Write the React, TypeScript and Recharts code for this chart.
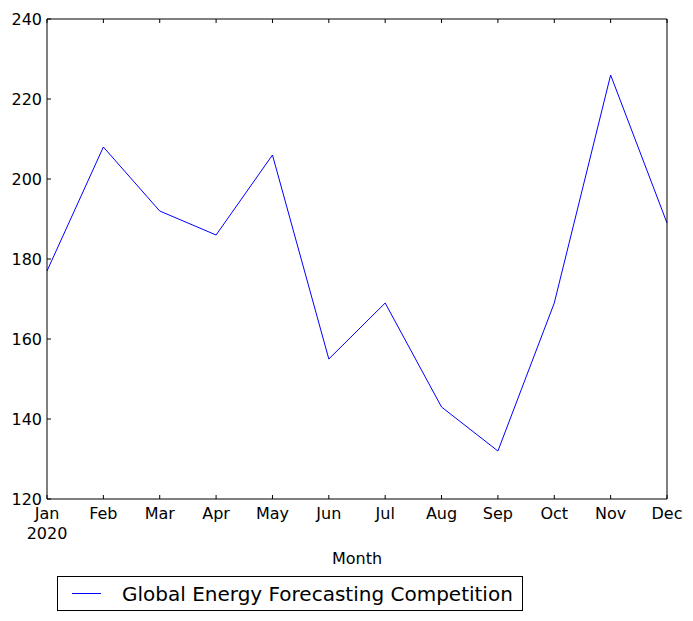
import { LineChart, Line, XAxis, YAxis } from "recharts";

const months = ["Jan", "Feb", "Mar", "Apr", "May", "Jun", "Jul", "Aug", "Sep", "Oct", "Nov", "Dec"];
const values = [177, 208, 192, 186, 206, 155, 169, 143, 132, 169, 226, 189];
const yTicks = [120, 140, 160, 180, 200, 220, 240];
const seriesName = "Global Energy Forecasting Competition";

const data = months.map((m, i) => ({ month: m, value: values[i] }));

const FONT = "DejaVu Sans, sans-serif";
const TICK = 4;

function BottomTick(props: any) {
  const { x, y, payload } = props;
  return (
    <g>
      <line x1={x} x2={x} y1={y} y2={y - TICK} stroke="#000" />
      <text x={x} y={y + 20} textAnchor="middle" fontSize={16} fontFamily={FONT} fill="#000">
        {payload.value}
      </text>
      {payload.value === "Jan" && (
        <text x={x} y={y + 40} textAnchor="middle" fontSize={16} fontFamily={FONT} fill="#000">
          2020
        </text>
      )}
    </g>
  );
}

function TopTick(props: any) {
  const { x, y } = props;
  return <line x1={x} x2={x} y1={y} y2={y + TICK} stroke="#000" />;
}

function LeftTick(props: any) {
  const { x, y, payload } = props;
  return (
    <g>
      <line x1={x} x2={x + TICK} y1={y} y2={y} stroke="#000" />
      <text x={x - 5} y={y + 6} textAnchor="end" fontSize={16} fontFamily={FONT} fill="#000">
        {payload.value}
      </text>
    </g>
  );
}

function RightTick(props: any) {
  const { x, y } = props;
  return <line x1={x} x2={x - TICK} y1={y} y2={y} stroke="#000" />;
}

export default function App() {
  return (
    <div style={{ position: "absolute", left: 0, top: 0, width: 693, height: 621, background: "#fff" }}>
      <LineChart width={693} height={621} data={data} margin={{ top: 18, right: 25, left: 0, bottom: 92 }}>
        <XAxis
          dataKey="month"
          xAxisId="bottom"
          height={30}
          stroke="#000"
          tickLine={false}
          tickSize={0}
          tickMargin={0}
          tick={<BottomTick />}
          interval={0}
          label={{ value: "Month", position: "insideBottom", offset: -35, fontSize: 16, fontFamily: FONT, fill: "#000" }}
        />
        <XAxis
          dataKey="month"
          xAxisId="top"
          orientation="top"
          height={1}
          stroke="#000"
          tickLine={false}
          tickSize={0}
          tickMargin={0}
          tick={<TopTick />}
          interval={0}
        />
        <YAxis
          yAxisId="left"
          width={47}
          domain={[120, 240]}
          ticks={yTicks}
          stroke="#000"
          tickLine={false}
          tickSize={0}
          tickMargin={0}
          tick={<LeftTick />}
          interval={0}
        />
        <YAxis
          yAxisId="right"
          orientation="right"
          width={1}
          domain={[120, 240]}
          ticks={yTicks}
          stroke="#000"
          tickLine={false}
          tickSize={0}
          tickMargin={0}
          tick={<RightTick />}
          interval={0}
        />
        <Line
          xAxisId="bottom"
          yAxisId="left"
          type="linear"
          dataKey="value"
          stroke="#0000ff"
          strokeWidth={1}
          dot={false}
          isAnimationActive={false}
        />
      </LineChart>
      <div
        style={{
          position: "absolute",
          left: 57,
          top: 576,
          width: 464,
          height: 33,
          border: "1px solid #000",
          display: "flex",
          alignItems: "center",
          fontFamily: FONT,
          fontSize: 20,
          boxSizing: "content-box",
        }}
      >
        <svg width={64} height={33} style={{ flex: "none" }}>
          <line x1={14} x2={43} y1={16.5} y2={16.5} stroke="#0000ff" strokeWidth={1} />
        </svg>
        <span>{seriesName}</span>
      </div>
    </div>
  );
}
